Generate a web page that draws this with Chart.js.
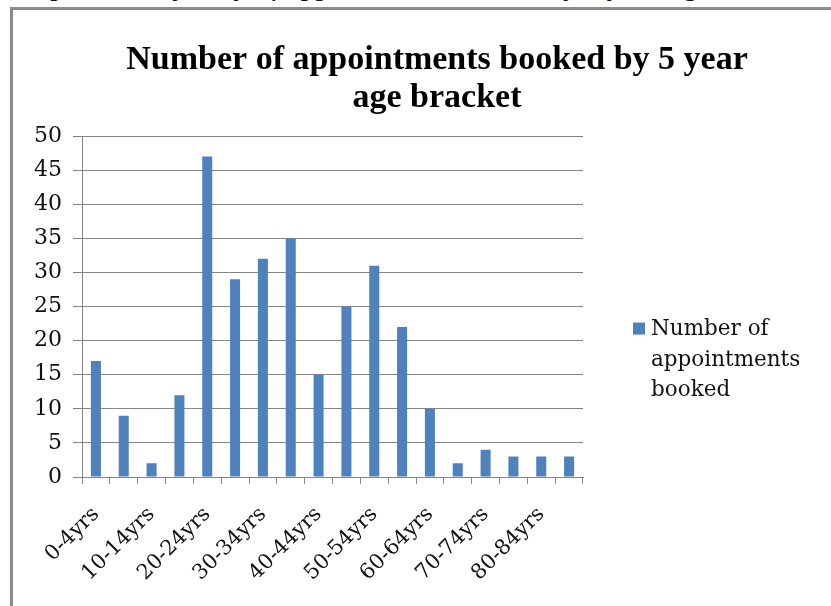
<!DOCTYPE html>
<html>
<head>
<meta charset="utf-8">
<script src="https://cdn.jsdelivr.net/npm/chart.js@4/dist/chart.umd.min.js"></script>
<style>
  html, body { margin: 0; padding: 0; background: #fff; overflow: hidden; }
  #page { position: absolute; left: 0; top: 0; width: 831px; height: 606px; overflow: hidden; background: #fff; }
  #caption {
    position: absolute; left: 4px; top: -30px; margin: 0;
    font: italic 30px "Liberation Serif", serif; color: #111; white-space: nowrap;
    line-height: 30px;
  }
  .rule { position: absolute; background: #8c8c8c; }
  #ruleTop { left: 10px; top: 7px; width: 821px; height: 3px; }
  #ruleLeft { left: 10px; top: 7px; width: 3px; height: 599px; }
  #edge { position: absolute; left: 824px; top: 10px; width: 7px; height: 596px; background: #fff; }
  #chartBox { position: absolute; left: 13px; top: 10px; width: 848px; height: 640px; }
</style>
</head>
<body>
<div id="page">
  <p id="caption">Graph 1: Frequency of appointments booked by 5 year age bracket</p>
  <div id="chartBox"><canvas id="ageChart"></canvas></div>
  <div class="rule" id="ruleTop"></div>
  <div class="rule" id="ruleLeft"></div>
  <div id="edge"></div>
</div>
<script>
// data
const ageBrackets = ['0-4yrs', '5-9yrs', '10-14yrs', '15-19yrs', '20-24yrs', '25-29yrs',
  '30-34yrs', '35-39yrs', '40-44yrs', '45-49yrs', '50-54yrs', '55-59yrs',
  '60-64yrs', '65-69yrs', '70-74yrs', '75-79yrs', '80-84yrs', '85-89yrs'];
const appointments = [17, 9, 2, 12, 47, 29, 32, 35, 15, 25, 31, 22, 10, 2, 4, 3, 3, 3];
const seriesName = 'Number of appointments booked';
const chartTitle = ['Number of appointments booked by 5 year', 'age bracket'];

const axisGrey = '#868686';
const barBlue = '#4F81BD';

// legend drawn to the right of the plot, wrapped like the original
const sideLegend = {
    id: 'sideLegend',
    afterDraw(chart) {
        const ctx = chart.ctx;
        const area = chart.chartArea;
        const ds = chart.data.datasets[0];
        ctx.save();
        ctx.font = '21.5px "DejaVu Serif", serif';
        const words = ds.label.split(' ');
        const lines = [];
        let cur = '';
        words.forEach(w => {
            const test = cur ? cur + ' ' + w : w;
            if (ctx.measureText(test).width > 170 && cur) {
                lines.push(cur);
                cur = w;
            } else {
                cur = test;
            }
        });
        if (cur) lines.push(cur);

        const boxX = area.right + 50;
        const boxY = (area.top + area.bottom) / 2 + 16;
        ctx.fillStyle = ds.backgroundColor;
        ctx.fillRect(boxX, boxY, 12, 12);
        ctx.fillStyle = '#111';
        ctx.textBaseline = 'middle';
        ctx.textAlign = 'left';
        lines.forEach((ln, i) => {
            ctx.fillText(ln, boxX + 18, boxY + 7 + i * 30.5);
        });
        ctx.restore();
    }
};

const ctx = document.getElementById('ageChart').getContext('2d');
new Chart(ctx, {
    type: 'bar',
    data: {
        labels: ageBrackets,
        datasets: [{
            label: seriesName,
            data: appointments,
            backgroundColor: barBlue,
            borderWidth: 0,
            categoryPercentage: 1,
            barPercentage: 0.36
        }]
    },
    options: {
        responsive: true,
        maintainAspectRatio: false,
        animation: false,
        layout: { padding: 0 },
        plugins: {
            legend: { display: false },
            tooltip: { enabled: false },
            title: {
                display: true,
                text: chartTitle,
                color: '#000',
                font: { family: '"Liberation Serif", serif', weight: 'bold', size: 34, lineHeight: 1.12 },
                padding: { top: 31, bottom: 19 }
            }
        },
        scales: {
            x: {
                grid: { offset: true, drawOnChartArea: false, drawTicks: true, tickLength: 7, color: axisGrey },
                border: { color: axisGrey },
                ticks: {
                    autoSkip: false,
                    minRotation: 45,
                    maxRotation: 45,
                    padding: 18,
                    color: '#111',
                    font: { family: '"DejaVu Serif", serif', size: 21 },
                    callback: function (value, index) {
                        return index % 2 === 0 ? this.getLabelForValue(value) : '';
                    }
                },
                afterFit: s => { s.height = 173; }
            },
            y: {
                min: 0,
                max: 50,
                grid: { color: axisGrey, tickLength: 9 },
                border: { color: axisGrey },
                ticks: {
                    stepSize: 5,
                    padding: 11,
                    color: '#111',
                    font: { family: '"DejaVu Serif", serif', size: 22 }
                },
                afterFit: s => { s.width = 69; }
            },
            legendSpace: {
                type: 'linear',
                position: 'right',
                display: true,
                grid: { display: false },
                border: { display: false },
                ticks: { display: false },
                afterFit: s => { s.width = 278; }
            }
        }
    },
    plugins: [sideLegend]
});
</script>
</body>
</html>
